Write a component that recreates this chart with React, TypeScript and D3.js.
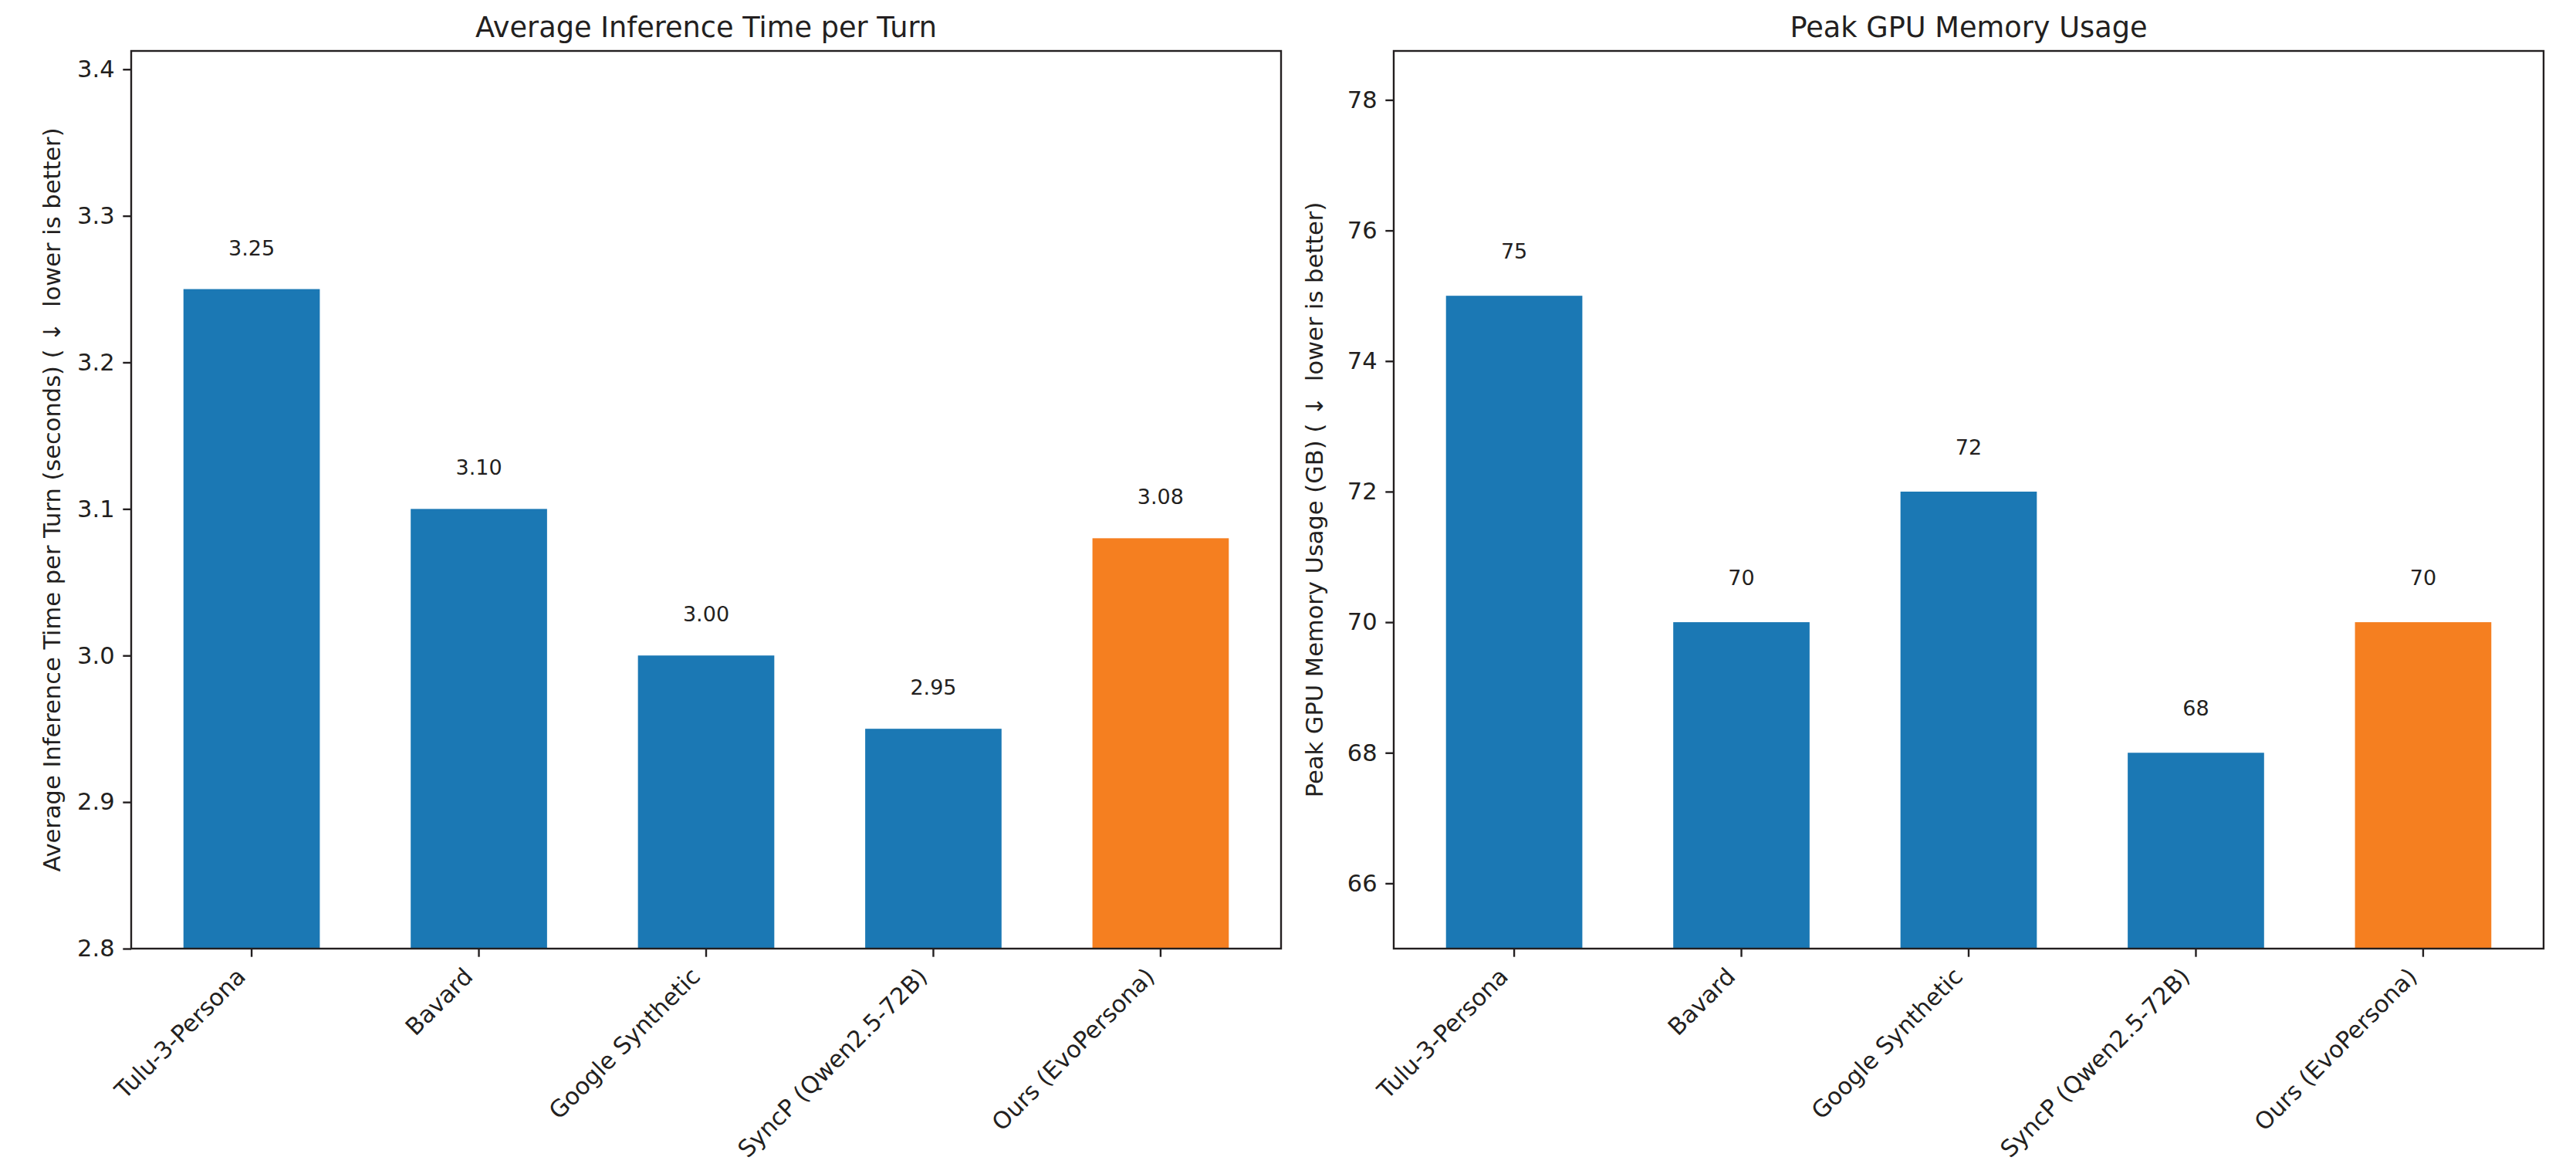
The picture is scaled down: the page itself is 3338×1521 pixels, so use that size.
import { useEffect, useRef } from "react"
import * as d3 from "d3"

const categories = ["Tulu-3-Persona", "Bavard", "Google Synthetic", "SyncP (Qwen2.5-72B)", "Ours (EvoPersona)"]
const inferenceTime = [3.25, 3.1, 3.0, 2.95, 3.08]
const gpuMemory = [75, 70, 72, 68, 70]
const inferenceTicks = [2.8, 2.9, 3.0, 3.1, 3.2, 3.3, 3.4]
const memoryTicks = [66, 68, 70, 72, 74, 76, 78]

const W = 3338
const H = 1521
const FONT = "DejaVu Sans"
const INK = "#231f20"
const BLUE = "#1b78b4"
const ORANGE = "#f57f20"

interface PanelSpec {
  left: number
  title: string
  yLabel: string
  values: number[]
  domain: [number, number]
  ticks: number[]
  tickFmt: (v: number) => string
  valueFmt: (v: number) => string
  labelOffset: number
}

export default function App() {
  const svgRef = useRef<SVGSVGElement>(null)

  useEffect(() => {
    if (!svgRef.current) return
    const svg = d3.select(svgRef.current)
    svg.selectAll("*").remove()

    const top = 66
    const bottom = 1229
    const panelW = 1490
    const tick = 10.7

    const panels: PanelSpec[] = [
      {
        left: 170,
        title: "Average Inference Time per Turn",
        yLabel: "Average Inference Time per Turn (seconds) ( \u2193  lower is better)",
        values: inferenceTime,
        domain: [2.8, 3.25 * 1.05],
        ticks: inferenceTicks,
        tickFmt: d3.format(".1f"),
        valueFmt: d3.format(".2f"),
        labelOffset: 0.02,
      },
      {
        left: 1806,
        title: "Peak GPU Memory Usage",
        yLabel: "Peak GPU Memory Usage (GB) ( \u2193  lower is better)",
        values: gpuMemory,
        domain: [65, 75 * 1.05],
        ticks: memoryTicks,
        tickFmt: d3.format("d"),
        valueFmt: d3.format("d"),
        labelOffset: 0.5,
      },
    ]

    panels.forEach((p) => {
      const x = d3
        .scaleBand<string>()
        .domain(categories)
        .range([p.left, p.left + panelW])
        .paddingInner(0.4)
        .paddingOuter(0.23)
      const y = d3.scaleLinear().domain(p.domain).range([bottom, top])

      const g = svg.append("g")

      // bars
      g.selectAll("rect.bar")
        .data(p.values)
        .enter()
        .append("rect")
        .attr("class", "bar")
        .attr("x", (_, i) => x(categories[i]) as number)
        .attr("width", x.bandwidth())
        .attr("y", (d) => y(d))
        .attr("height", (d) => bottom - y(d))
        .attr("fill", (_, i) => (i === categories.length - 1 ? ORANGE : BLUE))

      // value labels
      g.selectAll("text.val")
        .data(p.values)
        .enter()
        .append("text")
        .attr("class", "val")
        .attr("x", (_, i) => (x(categories[i]) as number) + x.bandwidth() / 2)
        .attr("y", (d) => y(d + p.labelOffset) - 6)
        .attr("text-anchor", "middle")
        .attr("font-family", FONT)
        .attr("font-size", 27)
        .attr("fill", INK)
        .text((d) => p.valueFmt(d))

      // y axis
      const yAxis = d3
        .axisLeft(y)
        .tickValues(p.ticks)
        .tickFormat((v) => p.tickFmt(v as number))
        .tickSize(tick)
        .tickPadding(tick)
      const ya = g.append("g").attr("transform", `translate(${p.left},0)`).call(yAxis)
      ya.select(".domain").remove()
      ya.selectAll(".tick line").attr("stroke", INK).attr("stroke-width", 2.4)
      ya.selectAll(".tick text")
        .attr("font-family", FONT)
        .attr("font-size", 30.5)
        .attr("fill", INK)

      // x axis ticks + rotated labels
      const xa = g.append("g")
      categories.forEach((c) => {
        const cx = (x(c) as number) + x.bandwidth() / 2
        xa.append("line")
          .attr("x1", cx)
          .attr("x2", cx)
          .attr("y1", bottom)
          .attr("y2", bottom + tick)
          .attr("stroke", INK)
          .attr("stroke-width", 2.4)
        xa.append("text")
          .attr("transform", `translate(${cx - 6},${bottom + 38}) rotate(-45)`)
          .attr("text-anchor", "end")
          .attr("font-family", FONT)
          .attr("font-size", 30.5)
          .attr("fill", INK)
          .text(c)
      })

      // frame
      g.append("rect")
        .attr("x", p.left)
        .attr("y", top)
        .attr("width", panelW)
        .attr("height", bottom - top)
        .attr("fill", "none")
        .attr("stroke", INK)
        .attr("stroke-width", 2.4)

      // title
      g.append("text")
        .attr("x", p.left + panelW / 2)
        .attr("y", 48)
        .attr("text-anchor", "middle")
        .attr("font-family", FONT)
        .attr("font-size", 36.7)
        .attr("fill", INK)
        .text(p.title)

      // y label
      g.append("text")
        .attr("transform", `translate(${p.left - 92},${(top + bottom) / 2}) rotate(-90)`)
        .attr("text-anchor", "middle")
        .attr("font-family", FONT)
        .attr("font-size", 30.5)
        .attr("fill", INK)
        .style("white-space", "pre")
        .text(p.yLabel)
    })
  }, [])

  return (
    <svg
      ref={svgRef}
      width={W}
      height={H}
      style={{ position: "absolute", left: 0, top: 0, background: "#fff" }}
    />
  )
}
